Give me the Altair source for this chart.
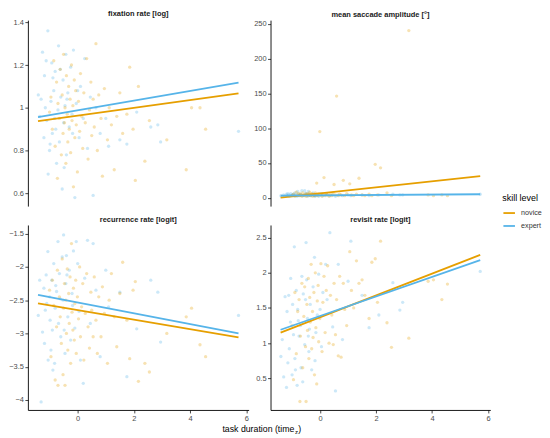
import altair as alt
import pandas as pd

# ---------------- data ----------------
measures = ["fix", "sacc", "rec", "rev"]
titles = ["fixation rate [log]", "mean saccade amplitude [°]",
          "recurrence rate [logit]", "revisit rate [logit]"]
groups = ["novice", "expert"]
x_ticks = [0, 2, 4, 6]

expert_x = [-1.40, -1.30, -1.25, -1.20, -1.18, -1.12, -1.10, -1.05, -1.06, -1.00, -0.95, -0.92, -0.90, -0.85, -0.82,
            -0.80, -0.75, -0.70, -0.68, -0.65, -0.60, -0.55, -0.52, -0.50, -0.45, -0.42, -0.40, -0.35, -0.30, -0.25,
            -0.20, -0.15, -0.10, -0.05, 0.05, 0.10, 0.20, 0.25, 0.35, 0.45, 0.55, 0.65, 0.80, 1.00, 1.10, 1.50, 1.75,
            2.10, 2.60, 2.85, 2.95, 5.72, -1.35, -1.15, -0.98, -0.88, -0.78, -0.62, -0.48, -0.38, -0.18, 0.00]
expert_fix = [1.06, 1.04, 1.26, 0.86, 1.15, 1.22, 0.94, 0.69, 1.36, 0.80, 1.03, 1.21, 0.88, 1.08, 0.95,
              1.17, 0.74, 0.99, 1.29, 0.84, 1.05, 0.62, 1.13, 0.93, 1.01, 1.25, 0.78, 1.07, 0.91, 1.19,
              0.97, 1.27, 0.58, 1.02, 0.86, 1.10, 0.95, 1.23, 0.81, 1.05, 0.59, 1.00, 0.88, 0.95, 0.82, 0.85, 0.83,
              0.98, 0.91, 0.92, 0.84, 0.89, 0.96, 1.00, 0.83, 1.14, 0.90, 1.18, 0.72, 1.04, 0.88, 1.08]
expert_sacc = [3, 4, 2, 5, 3, 4, 2, 6, 3, 4, 5, 3, 7, 4, 2,
               9, 3, 5, 4, 10, 3, 10, 6, 4, 2, 9, 5, 3, 4, 7,
               3, 5, 4, 2, 6, 3, 4, 5, 3, 4, 2, 4, 3, 4, 3, 4, 3,
               4, 5, 4, 4, 5, 2, 6, 4, 3, 5, 3, 6, 4, 2, 5]
expert_rec = [-2.73, -4.03, -2.98, -2.32, -3.15, -2.12, -2.55, -3.40, -1.77, -2.45, -3.25, -2.20, -2.95, -1.95, -3.45,
              -2.62, -2.37, -1.62, -2.85, -2.10, -3.05, -1.85, -2.50, -1.52, -3.30, -2.25, -1.83, -2.75, -2.05, -3.10,
              -2.40, -1.76, -2.92, -1.62, -2.67, -3.40, -3.75, -2.17, -1.60, -2.85, -1.65, -2.35, -3.35, -2.05, -2.60,
              -2.38, -3.65, -2.93, -2.20, -2.38, -3.13, -2.73, -2.20, -2.65, -2.80, -3.55, -2.28, -2.48, -2.95, -2.12,
              -2.58, -1.95]
expert_rev = [0.81, 0.52, 1.66, 0.37, 1.45, 1.68, 0.92, 1.92, 1.30, 0.55, 1.12, 2.37, 0.78, 1.75, 0.40,
              1.48, 1.10, 1.25, 0.65, 1.95, 1.70, 0.98, 1.62, 2.43, 1.35, 1.10, 0.88, 1.55, 0.62, 1.80,
              2.22, 1.15, 1.40, 1.98, 0.95, 1.72, 2.12, 1.62, 2.57, 1.23, 0.32, 2.12, 1.05, 1.88, 2.45,
              1.68, 1.22, 1.40, 1.86, 1.47, 1.58, 2.02, 1.05, 0.72, 1.55, 0.62, 1.32, 0.45, 1.90, 1.20,
              0.75, 1.48]

novice_x = [-1.00, -0.95, -0.90, -0.85, -0.80, -0.75, -0.72, -0.70, -0.65, -0.62, -0.58, -0.55, -0.52, -0.50, -0.47,
            -0.45, -0.42, -0.40, -0.37, -0.35, -0.32, -0.30, -0.27, -0.25, -0.22, -0.20, -0.17, -0.15, -0.12, -0.10,
            -0.07, -0.05, -0.01, 0.03, 0.07, 0.10, 0.14, 0.18, 0.22, 0.27, 0.32, 0.37, 0.42, 0.47, 0.50,
            0.55, 0.59, 0.65, 0.70, 0.75, 0.83, 0.88, 0.95, 1.06, 1.12, 1.20, 1.30, 1.39, 1.50, 1.60,
            1.75, 1.85, 1.97, 2.05, 2.16, 2.39, 2.55, 3.17, 3.86, 4.05, 4.35, 4.55]
novice_fix = [0.98, 1.05, 0.90, 1.22, 0.82, 1.12, 0.67, 1.02, 0.95, 1.18, 0.78, 1.06, 0.88, 1.25, 0.93,
              1.00, 0.74, 1.15, 0.97, 0.84, 1.10, 0.90, 1.04, 0.79, 1.20, 0.94, 1.01, 0.63, 1.13, 0.86,
              1.08, 0.92, 0.70, 1.03, 0.89, 1.16, 0.96, 0.81, 1.07, 0.93, 1.23, 0.76, 0.99, 1.12, 0.87,
              1.04, 0.91, 1.30, 0.80, 1.06, 0.95, 0.68, 1.09, 0.85, 1.00, 0.92, 0.71, 0.96, 1.07, 0.88,
              0.97, 1.19, 0.90, 0.66, 1.10, 0.75, 0.94, 0.85, 0.71, 1.00, 1.00, 0.90]
novice_sacc = [3, 5, 2, 8, 4, 6, 3, 5, 2, 7, 4, 3, 5, 2, 6,
               4, 3, 5, 8, 3, 4, 6, 2, 5, 3, 4, 7, 3, 21, 5,
               3, 6, 95, 4, 2, 5, 29, 3, 6, 4, 2, 5, 3, 7, 19,
               4, 146, 3, 5, 4, 25, 3, 6, 20, 4, 3, 5, 28, 4, 3,
               5, 3, 48, 4, 43, 7, 3, 240, 4, 3, 4, 3]
novice_rec = [-2.35, -3.35, -2.20, -2.58, -3.70, -2.90, -2.05, -3.78, -2.45, -2.75, -3.15, -1.88, -3.62, -2.62, -2.25,
              -3.78, -2.50, -3.00, -2.03, -3.25, -2.40, -2.85, -2.15, -3.45, -1.65, -2.68, -2.95, -2.32, -3.10, -2.55,
              -2.20, -3.30, -2.45, -2.78, -2.00, -3.05, -2.60, -2.25, -3.40, -2.70, -2.10, -2.90, -3.22, -2.38, -2.65,
              -3.05, -2.15, -2.80, -3.30, -2.45, -3.05, -2.30, -2.70, -3.45, -2.50, -2.10, -2.75, -3.20, -2.40, -1.93,
              -2.80, -3.38, -2.35, -2.22, -3.72, -3.45, -3.58, -3.00, -2.75, -2.62, -3.17, -3.35]
novice_rev = [1.25, 0.48, 1.72, 0.85, 1.45, 1.62, 0.17, 1.10, 1.85, 0.65, 1.38, 1.80, 0.95, 0.17, 1.55,
              1.18, 1.92, 0.78, 1.65, 1.30, 2.12, 0.92, 1.45, 1.08, 1.72, 0.55, 2.00, 1.22, 0.42, 1.60,
              1.82, 1.02, 1.35, 2.13, 0.88, 1.58, 1.95, 1.15, 1.75, 2.10, 1.00, 1.68, 1.40, 0.98, 1.85,
              1.12, 1.62, 0.82, 1.95, 0.80, 1.85, 1.48, 1.25, 2.30, 1.75, 1.50, 2.17, 1.85, 1.90, 1.68,
              1.35, 2.15, 2.20, 1.58, 2.45, 1.29, 0.94, 1.07, 1.88, 1.90, 1.62, 1.84]

# fitted lines: y at the two ends of the x range
line_x = [-1.41, 5.72]
novice_line_fix = [0.938, 1.067]
novice_line_sacc = [0.0, 31.0]
novice_line_rec = [-2.55, -3.06]
novice_line_rev = [1.15, 2.255]
expert_line_fix = [0.956, 1.118]
expert_line_sacc = [3.0, 5.0]
expert_line_rec = [-2.42, -3.00]
expert_line_rev = [1.19, 2.18]

# y axis domains / ticks
y_domains = {"fix": [0.54, 1.41], "sacc": [-12, 255], "rec": [-4.15, -1.37], "rev": [0.05, 2.68]}
y_ticks = {"fix": [0.6, 0.8, 1.0, 1.2, 1.4], "sacc": [0, 50, 100, 150, 200, 250],
           "rec": [-4, -3.5, -3, -2.5, -2, -1.5], "rev": [0.5, 1, 1.5, 2, 2.5]}

# ---------------- tables ----------------
pt_src = {
    "novice": (novice_x, {"fix": novice_fix, "sacc": novice_sacc, "rec": novice_rec, "rev": novice_rev}),
    "expert": (expert_x, {"fix": expert_fix, "sacc": expert_sacc, "rec": expert_rec, "rev": expert_rev}),
}
rows = []
for g in ["expert", "novice"]:
    xs, ys = pt_src[g]
    for m in measures:
        for xv, yv in zip(xs, ys[m]):
            rows.append({"m": m, "skill": g, "x": xv, "y": yv})
points = pd.DataFrame(rows)

ln_src = {
    "novice": {"fix": novice_line_fix, "sacc": novice_line_sacc, "rec": novice_line_rec, "rev": novice_line_rev},
    "expert": {"fix": expert_line_fix, "sacc": expert_line_sacc, "rec": expert_line_rec, "rev": expert_line_rev},
}
lrows = []
for g in groups:
    for m in measures:
        for xv, yv in zip(line_x, ln_src[g][m]):
            lrows.append({"m": m, "skill": g, "x": xv, "y": yv})
lines = pd.DataFrame(lrows)

ORANGE, BLUE = "#E69F00", "#56B4E9"
color_scale = alt.Scale(domain=groups, range=[ORANGE, BLUE])
fill_scale = alt.Scale(domain=groups[::-1], range=[BLUE, ORANGE])
X_DOMAIN = [-1.77, 6.08]
FONT = "Liberation Sans"


def panel(key, title, width, height, bottom):
    xaxis = alt.Axis(values=x_ticks, title=None, format="~r") if bottom else None
    x = alt.X("x:Q", scale=alt.Scale(domain=X_DOMAIN, nice=False, zero=False), axis=xaxis)
    y = alt.Y("y:Q", scale=alt.Scale(domain=y_domains[key], nice=False, zero=False),
              axis=alt.Axis(values=y_ticks[key], title=None, format="~r"))
    pts = alt.Chart(points).transform_filter(alt.datum.m == key).mark_circle(
        size=11, opacity=0.3).encode(
        x=x, y=y, fill=alt.Fill("skill:N", scale=fill_scale, legend=None))
    lns = alt.Chart(lines).transform_filter(alt.datum.m == key).mark_line(
        strokeWidth=1.8).encode(
        x=x, y=y, detail="skill:N",
        color=alt.Color("skill:N", scale=color_scale,
                        legend=alt.Legend(title="skill level", orient="none", legendX=477, legendY=175,
                                          symbolType="stroke")))
    layers = [pts, lns]
    if key == "rec":
        t1 = alt.Chart(pd.DataFrame({"t": ["task duration (time"]})).mark_text(
            align="right", baseline="alphabetic", fontSize=8.8, font=FONT, color="black").encode(
            text="t:N", x=alt.value(268), y=alt.value(208))
        t2 = alt.Chart(pd.DataFrame({"t": ["z"]})).mark_text(
            align="left", baseline="alphabetic", fontSize=6, font=FONT, color="black").encode(
            text="t:N", x=alt.value(268.5), y=alt.value(210))
        t3 = alt.Chart(pd.DataFrame({"t": [")"]})).mark_text(
            align="left", baseline="alphabetic", fontSize=8.8, font=FONT, color="black").encode(
            text="t:N", x=alt.value(272), y=alt.value(208))
        layers += [t1, t2, t3]
    return alt.layer(*layers).properties(
        width=width, height=height,
        title=alt.TitleParams(title, fontSize=7.5, fontWeight="bold", offset=1, color="#1a1a1a", font=FONT))


chart = alt.concat(
    panel("fix", titles[0], 222, 187, False),
    panel("sacc", titles[1], 221, 187, False),
    panel("rec", titles[2], 222, 186, True),
    panel("rev", titles[3], 221, 186, True),
    columns=2, spacing={"row": 19, "column": 22}, bounds="flush"
).properties(
    padding={"left": 0, "top": 0, "right": 0, "bottom": 0}
).configure(font=FONT).configure_view(stroke=None).configure_axis(
    grid=False, domainColor="black", domainWidth=0.9, tickColor="#333333", tickWidth=0.9,
    tickSize=3, labelColor="#4D4D4D", labelFontSize=7.5, labelFont=FONT, labelPadding=1.5
).configure_legend(
    titleFontSize=9, titleFontWeight="normal", titleColor="black", titleFont=FONT,
    labelFontSize=7.2, labelColor="#333333", labelFont=FONT, labelOffset=5,
    symbolType="stroke", symbolStrokeWidth=1.8, symbolSize=135, rowPadding=2, titlePadding=3
)

chart.save("out.html", embed_options={"renderer": "svg", "actions": False})
